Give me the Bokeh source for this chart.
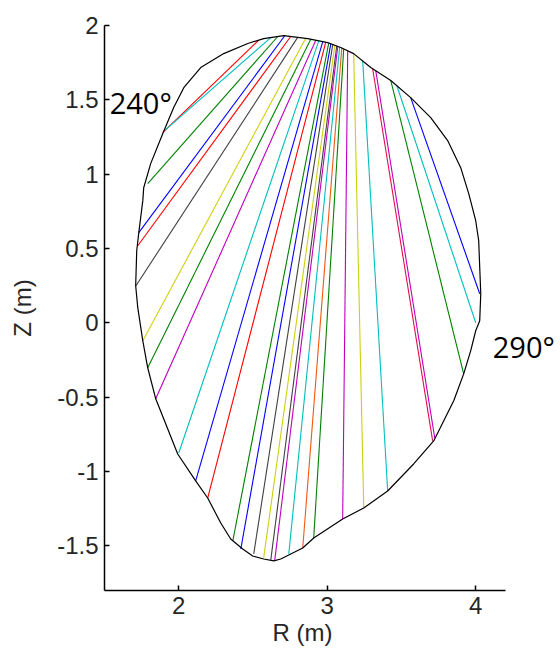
from bokeh.plotting import figure
from bokeh.models import ColumnDataSource, Label, Range1d, FixedTicker
from bokeh.embed import file_html
from bokeh.resources import INLINE

# ---- data (metres) ----
boundary_R = [1.758, 1.764, 1.811, 1.892, 1.966, 2.034, 2.148, 2.303, 2.465, 2.572,
              2.707, 2.869, 3.003, 3.091, 3.178, 3.293, 3.428, 3.562, 3.697, 3.811,
              3.899, 3.953, 4.000, 4.020, 4.034, 4.027, 4.000, 3.966, 3.919, 3.852,
              3.717, 3.582, 3.407, 3.246, 3.104, 2.909, 2.835, 2.741, 2.687, 2.640,
              2.572, 2.498, 2.431, 2.350, 2.283, 2.195, 2.114, 1.993, 1.845, 1.791,
              1.758, 1.724, 1.710, 1.717, 1.731, 1.758]
boundary_Z = [0.822, 0.909, 1.071, 1.272, 1.448, 1.582, 1.717, 1.811, 1.879, 1.912,
              1.932, 1.912, 1.885, 1.852, 1.811, 1.717, 1.630, 1.515, 1.380, 1.226,
              1.044, 0.869, 0.687, 0.553, 0.196, 0.014, -0.053, -0.188, -0.343, -0.524,
              -0.794, -0.949, -1.131, -1.245, -1.319, -1.447, -1.514, -1.561, -1.588, -1.601,
              -1.588, -1.568, -1.521, -1.454, -1.346, -1.178, -1.063, -0.882, -0.511, -0.302,
              -0.121, 0.102, 0.250, 0.485, 0.607, 0.822]

chord_R_start = [2.539, 2.620, 2.667, 2.714, 2.754, 2.801, 2.855, 2.889, 2.923, 2.943,
                 2.970, 2.990, 3.010, 3.024, 3.037, 3.051, 3.064, 3.071, 3.084, 3.098,
                 3.111, 3.138, 3.178, 3.239, 3.306, 3.327, 3.428, 3.468, 3.562]
chord_Z_start = [1.902, 1.919, 1.926, 1.931, 1.926, 1.920, 1.914, 1.908, 1.901, 1.897,
                 1.892, 1.888, 1.882, 1.877, 1.872, 1.867, 1.862, 1.860, 1.855, 1.849,
                 1.843, 1.830, 1.811, 1.762, 1.709, 1.695, 1.630, 1.598, 1.515]
chord_R_end = [1.892, 1.912, 1.791, 1.731, 1.724, 1.712, 1.758, 1.791, 1.845, 2.000,
               2.114, 2.195, 2.364, 2.418, 2.505, 2.572, 2.620, 2.646, 2.741, 2.835,
               2.909, 3.104, 3.246, 3.407, 3.710, 3.724, 3.919, 4.000, 4.027]
chord_Z_end = [1.279, 1.300, 0.936, 0.607, 0.519, 0.250, -0.121, -0.302, -0.511, -0.875,
               -1.063, -1.178, -1.467, -1.521, -1.554, -1.581, -1.594, -1.601, -1.554, -1.514,
               -1.447, -1.319, -1.245, -1.131, -0.794, -0.773, -0.343, 0.001, 0.196]
chord_color_codes = ["r", "c", "g", "b", "r", "k", "y", "g", "m", "c",
                     "b", "r", "g", "b", "k", "y", "k", "m", "c", "o",
                     "g", "m", "y", "c", "x", "m", "g", "c", "b"]

x_ticks = [2, 3, 4]
y_ticks = [-1.5, -1, -0.5, 0, 0.5, 1, 1.5, 2]
y_tick_labels = ["-1.5", "-1", "-0.5", "0", "0.5", "1", "1.5", "2"]
angle_labels = ["240°", "290°"]

# ---- styles ----
palette = {"b": "#0000ff", "g": "#008000", "r": "#ff0000", "c": "#00bfbf",
           "m": "#bf00bf", "y": "#cfcf10", "k": "#404040", "o": "#f05a10",
           "x": "#e0104a"}

src = ColumnDataSource(dict(
    x0=chord_R_start, y0=chord_Z_start, x1=chord_R_end, y1=chord_Z_end,
    color=[palette[c] for c in chord_color_codes]))

# frame spans from the y axis to the right window edge so the 290° note is not clipped;
# the x axis itself is drawn only over 1.5 .. 4.2
p = figure(width=560, height=653, x_range=Range1d(1.5, 4.571), y_range=Range1d(-1.8, 2.0),
           output_backend="svg", toolbar_location=None,
           min_border_left=104, min_border_right=0, min_border_top=25, min_border_bottom=63)
p.outline_line_color = None
p.grid.visible = False
p.background_fill_color = "white"
p.border_fill_color = "white"

p.segment("x0", "y0", "x1", "y1", source=src, line_color="color", line_width=1.1)
p.line(boundary_R, boundary_Z, line_color="black", line_width=1.2)

for ax in (p.xaxis[0], p.yaxis[0]):
    ax.axis_line_color = "black"
    ax.axis_line_width = 1.5
    ax.major_tick_line_color = "black"
    ax.major_tick_line_width = 1.5
    ax.major_tick_in = 5
    ax.major_tick_out = 0
    ax.minor_tick_line_color = None
    ax.major_label_text_font = "Liberation Sans"
    ax.major_label_text_font_size = "24px"
    ax.major_label_text_color = "#262626"
    ax.axis_label_text_font = "Liberation Sans"
    ax.axis_label_text_font_size = "24px"
    ax.axis_label_text_font_style = "normal"
    ax.axis_label_text_color = "#262626"

p.xaxis.bounds = (1.5, 4.2)
p.xaxis.ticker = FixedTicker(ticks=x_ticks)
p.yaxis.ticker = FixedTicker(ticks=y_ticks)
p.yaxis.major_label_overrides = {t: s for t, s in zip(y_ticks, y_tick_labels)}
p.xaxis.axis_label = "R (m)" + "\u00a0" * 9
p.yaxis.axis_label = "Z (m)"
p.xaxis.major_label_standoff = 6
p.xaxis.axis_label_standoff = 2
p.yaxis.major_label_standoff = 6
p.yaxis.axis_label_standoff = 18

p.add_layout(Label(x=1.535, y=1.48, text=angle_labels[0], text_font="Open Sans",
                   text_font_size="29px", text_color="black", text_baseline="alphabetic"))
p.add_layout(Label(x=4.115, y=-0.16, text=angle_labels[1], text_font="Open Sans",
                   text_font_size="29px", text_color="black", text_baseline="alphabetic"))

open("out.html", "w").write(file_html(p, INLINE))
